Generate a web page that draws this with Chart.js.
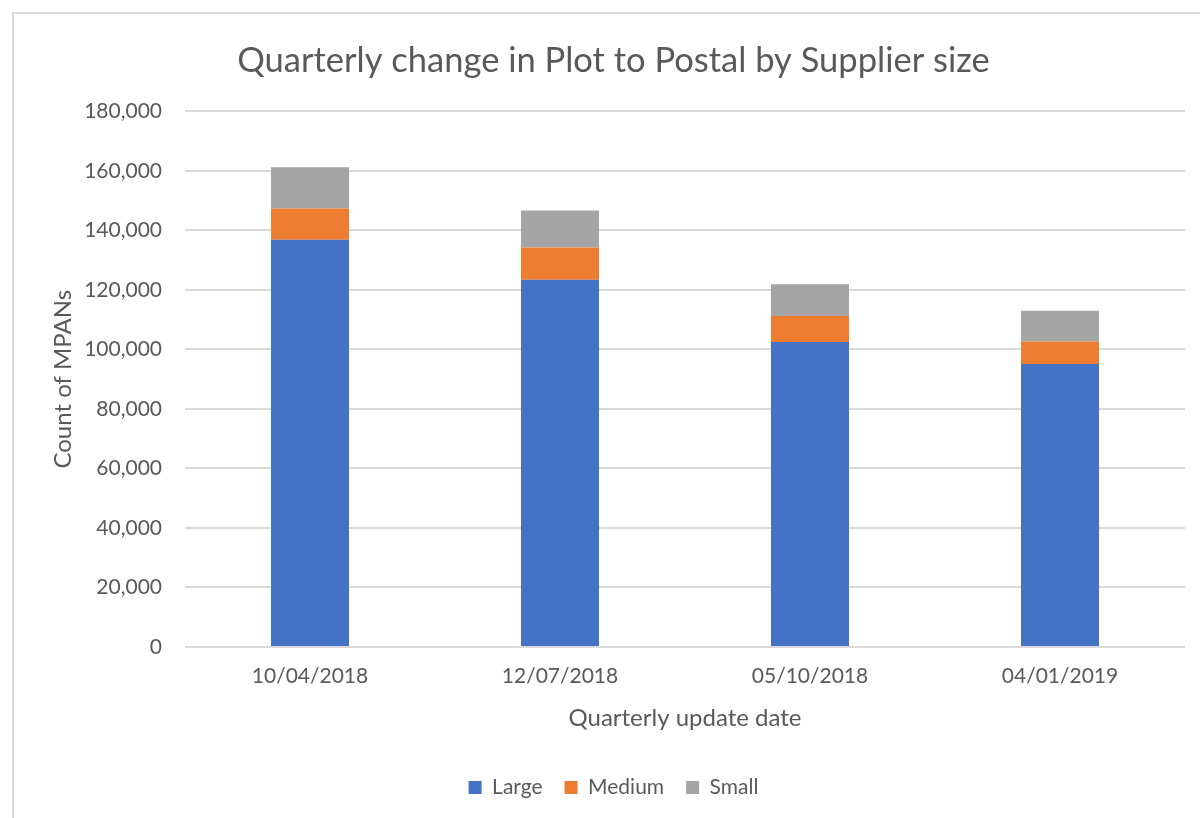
<!DOCTYPE html>
<html><head><meta charset="utf-8">
<script src="https://cdn.jsdelivr.net/npm/chart.js@4"></script>
<style>html,body{margin:0;padding:0;background:#fff}#wrap{position:relative;width:1200px;height:818px}</style>
</head><body><div id="wrap"><canvas id="c"></canvas></div>
<script>
const categories = ['10/04/2018', '12/07/2018', '05/10/2018', '04/01/2019'];
const largeValues = [136900, 123400, 102500, 95100];
const mediumValues = [10500, 10900, 8700, 7600];
const smallValues = [13800, 12400, 10700, 10300];
const yMin = 0, yMax = 180000, yStep = 20000;

const FONT = 'Lato, "Open Sans", sans-serif';
const TXT = '#595959';

const framePlugin = {
  id: 'frame',
  beforeDraw(chart) {
    const ctx = chart.ctx;
    ctx.save();
    ctx.fillStyle = '#fff';
    ctx.fillRect(0, 0, chart.width, chart.height);
    ctx.strokeStyle = '#d9d9d9';
    ctx.lineWidth = 2;
    ctx.strokeRect(13, 13, 1300, 900);
    ctx.restore();
  }
};

new Chart(document.getElementById('c'), {
  type: 'bar',
  data: {
    labels: categories,
    datasets: [
      { label: 'Large', data: largeValues, backgroundColor: '#4472C4' },
      { label: 'Medium', data: mediumValues, backgroundColor: '#ED7D31' },
      { label: 'Small', data: smallValues, backgroundColor: '#A5A5A5' }
    ]
  },
  options: {
    responsive: true,
    maintainAspectRatio: false,
    animation: false,
    datasets: { bar: { categoryPercentage: 1, barPercentage: 0.312 } },
    layout: { padding: { left: 42, right: 15, top: 0, bottom: 10 } },
    plugins: {
      title: {
        display: true,
        text: 'Quarterly change in Plot to Postal by Supplier size',
        color: TXT,
        font: { family: FONT, size: 34.5, weight: 'normal' },
        padding: { top: 40, bottom: 30 }
      },
      legend: {
        position: 'bottom',
        labels: {
          color: TXT,
          font: { family: FONT, size: 21 },
          boxWidth: 13, boxHeight: 13,
          padding: 22
        }
      },
      tooltip: { enabled: false }
    },
    scales: {
      x: {
        stacked: true,
        grid: { display: false },
        border: { display: false },
        ticks: { color: TXT, font: { family: FONT, size: 21 }, padding: 9 },
        title: {
          display: true, text: 'Quarterly update date', color: TXT,
          font: { family: FONT, size: 24 }, padding: { top: 6, bottom: 22 }
        }
      },
      y: {
        stacked: true,
        min: yMin, max: yMax,
        afterFit(scale) { scale.width = 143; },
        grid: { color: '#d9d9d9', lineWidth: 2, drawTicks: false },
        border: { display: false },
        ticks: {
          stepSize: yStep, color: TXT, padding: 23,
          font: { family: FONT, size: 21 },
          callback: v => v.toLocaleString('en-US')
        },
        title: {
          display: true, text: 'Count of MPANs', color: TXT,
          font: { family: FONT, size: 24 }, padding: { top: 7, bottom: 0 }
        }
      }
    }
  },
  plugins: [framePlugin]
});
</script></body></html>
